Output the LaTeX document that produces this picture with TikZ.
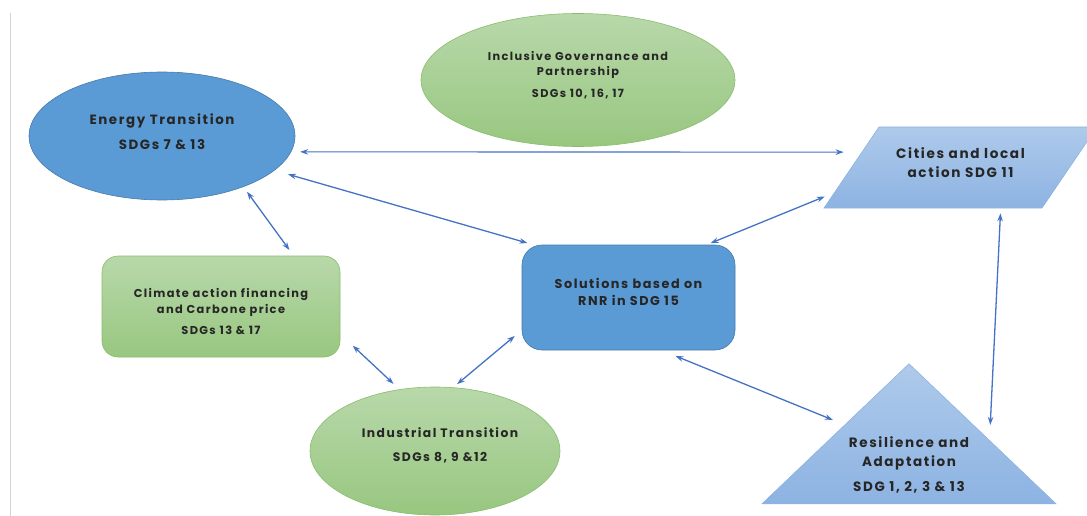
\documentclass[tikz,border=0pt]{standalone}
\usepackage{fontspec}
\setmainfont{Poppins}[LetterSpace=12]
\usetikzlibrary{shapes.geometric, arrows.meta, positioning, calc}
\definecolor{blueone}{RGB}{91,155,213}
\definecolor{blueedge}{RGB}{70,120,170}
\definecolor{greentop}{RGB}{184,216,170}
\definecolor{greenbot}{RGB}{152,199,128}
\definecolor{greenedge}{RGB}{138,188,108}
\definecolor{paletop}{RGB}{174,202,235}
\definecolor{palebot}{RGB}{141,179,226}
\definecolor{linkblue}{RGB}{68,114,196}
\tikzset{
    ellipsenode/.style = {draw, ellipse, inner sep = 0em, node distance=0em},
    roundnode/.style = {draw, rectangle, inner sep = 0em, node distance=0em},
    bluenode/.style = {fill=blueone, draw=blueedge, line width=0.6pt},
    greennode/.style = {top color=greentop, bottom color=greenbot, draw=greenedge, line width=0.6pt},
    palenode/.style = {top color=paletop, bottom color=palebot, draw=palebot, line width=0.6pt},
    textnode/.style  = {draw=none, fill=none, rectangle, inner sep = 0em, node distance=0em,
      text=black!85, align=center},
    connect/.style = {linkblue, line width=1.3pt,
      {Stealth[length=8pt,width=5.5pt]}-{Stealth[length=8pt,width=5.5pt]}}
}

\begin{document}
\begin{tikzpicture}[x=1pt, y=1pt]
    \useasboundingbox (0,-516) rectangle (1087,0);
    \clip (0,-516) rectangle (1087,0);
    \draw [gray!35, line width=0.8pt] (10,-13) -- (10,-516);

    % shapes
    \node [name=energy, ellipsenode, bluenode, minimum width=266pt, minimum height=128pt] at (162,-136) {};
    \node [name=gov, ellipsenode, greennode, minimum width=314pt, minimum height=133pt,
        right of = energy, xshift=416pt, yshift=56pt] {};
    \begin{scope}[shift={(960.5,-167.5)}, xslant=0.679]
        \node [name=cities, roundnode, palenode, transform shape, minimum width=218pt, minimum height=81pt] at (0,0) {};
    \end{scope}
    \node [name=climate, roundnode, greennode, rounded corners=16pt, minimum width=238pt, minimum height=101pt,
        right of = energy, xshift=59pt, yshift=-170.5pt] {};
    \node [name=solutions, roundnode, bluenode, rounded corners=20pt, minimum width=213pt, minimum height=105pt,
        right of = energy, xshift=466.5pt, yshift=-161.5pt] {};
    \node [name=industrial, ellipsenode, greennode, minimum width=250pt, minimum height=128pt,
        right of = energy, xshift=273pt, yshift=-315pt] {};
    \node [name=resilience, isosceles triangle, isosceles triangle stretches, shape border rotate=90,
        palenode, inner sep=0pt, node distance=0em, minimum width=294pt, minimum height=140pt,
        right of = energy, xshift=747pt, yshift=-227pt, anchor=apex] {};

    % texts
    \node [name=energytxt, textnode, font=\bfseries\fontsize{13.4}{16}\selectfont,
        above of = energy, yshift=4.5pt] {Energy Transition\\[9pt]SDGs 7 \& 13};
    \node [name=govtxt, textnode, font=\bfseries\fontsize{11.3}{15}\selectfont,
        above of = gov, yshift=5pt] {Inclusive Governance and\\Partnership\\[7.5pt]SDGs 10, 16, 17};
    \node [name=citiestxt, textnode, font=\bfseries\fontsize{13.6}{19}\selectfont,
        above of = cities, yshift=5pt] {Cities and local\\action SDG 11};
    \node [name=climatetxt, textnode, font=\bfseries\fontsize{11.4}{16}\selectfont,
        below of = climate, yshift=-5pt] {Climate action financing\\and Carbone price\\[5pt]SDGs 13 \& 17};
    \node [name=solutionstxt, textnode, font=\bfseries\fontsize{12.8}{17}\selectfont,
        above of = solutions, yshift=6pt] {Solutions based on\\RNR in SDG 15};
    \node [name=industrialtxt, textnode, font=\bfseries\fontsize{12.3}{15}\selectfont,
        above of = industrial, xshift=5pt, yshift=6pt] {Industrial Transition\\[9pt]SDGs 8, 9 \&12};
    \node [name=resiltxt, textnode, font=\bfseries\fontsize{13.5}{19}\selectfont,
        yshift=-102pt] at (resilience.apex) {Resilience and\\Adaptation\\[6pt]SDG 1, 2, 3 \& 13};

    % links
    \draw [connect, line width=1.1pt, shorten <=9pt, shorten >=18pt] (energy.-7) -- (cities.172);
    \draw [connect, shorten <=14pt, shorten >=6pt] (energy.-17) -- (solutions.151);
    \draw [connect, shorten <=6pt, shorten >=7pt] (energy.-32) -- (climate.35);
    \draw [connect, shorten <=4pt, shorten >=10pt] (solutions.34) -- (cities.193.7);
    \draw [connect, shorten <=5pt, shorten >=15pt] (cities.-31.8) -- ($(resilience.apex)!0.545!(resilience.right corner)$);
    \draw [connect, shorten <=15pt, shorten >=12.5pt] (solutions.-58) -- ($(resilience.apex)!0.437!(resilience.left corner)$);
    \draw [connect, shorten <=17pt, shorten >=8pt] (climate.-13) -- (industrial.120);
    \draw [connect, shorten <=9pt, shorten >=5pt] (solutions.197) -- (industrial.74);
\end{tikzpicture}
\end{document}
